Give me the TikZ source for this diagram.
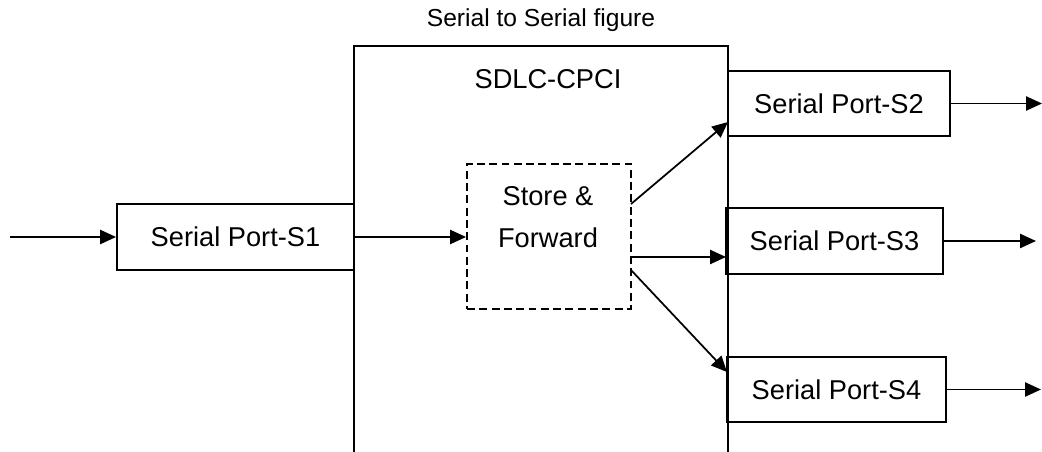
\documentclass[tikz,border=0pt]{standalone}
\usepackage{fontspec}
\setmainfont{Liberation Sans}
\usetikzlibrary{arrows.meta,calc}
\begin{document}
\begin{tikzpicture}[x=0.02cm,y=-0.02cm,
  line width=1.1pt,
  port/.style={draw,line width=1.1pt,inner sep=0pt,font=\fontsize{15.5}{18}\selectfont},
  arr/.style={-{Triangle[length=9pt,width=8pt]},line width=1pt},
  lbl/.style={inner sep=0pt,font=\fontsize{15.5}{18}\selectfont}]
\useasboundingbox (0,0) rectangle (1042,452);
% outer open box
\draw (354,452) -- (354,46) -- (728,46) -- (728,452);
\node[lbl,font=\fontsize{14}{17}\selectfont] (title) at (541,20) {Serial to Serial figure};
\node[lbl] (sdlc) at (548,79) {SDLC-CPCI};
% ports
\node[port,minimum width=4.74cm,minimum height=1.32cm] (S1) at (235.5,237) {Serial Port-S1};
\node[port,minimum width=4.44cm,minimum height=1.3cm] (S2) at (839,103.5) {Serial Port-S2};
\node[port,minimum width=4.34cm,minimum height=1.32cm] (S3) at (834.5,241) {Serial Port-S3};
\node[port,minimum width=4.38cm,minimum height=1.3cm] (S4) at (836.5,389.5) {Serial Port-S4};
% store & forward
\node[draw,dash pattern=on 4.5pt off 2.5pt,line width=1.1pt,minimum width=3.28cm,minimum height=2.9cm,inner sep=0pt] (SF) at (549,236.5) {};
\node[lbl,align=center,font=\fontsize{15.5}{24}\selectfont] (sftext) at (548,217) {Store \&\\Forward};
% coordinates
\coordinate (in) at (10,237);
\coordinate (o2) at (1042,103.5);
\coordinate (o3) at (1036,241);
\coordinate (o4) at (1041,389.5);
\coordinate (sfa) at (631,204);
\coordinate (sfb) at (631,257);
\coordinate (sfc) at (631,270);
\coordinate (s2in) at (728,122);
\coordinate (s3in) at (726,257);
\coordinate (s4in) at (727,372);
% connectors
\draw[arr] (in) -- (S1.west);
\draw[arr] (S1.east) -- (S1.east -| SF.west);
\draw[arr] (sfa) -- (s2in);
\draw[arr] (sfb) -- (s3in);
\draw[arr] (sfc) -- (s4in);
\draw[arr] (S2.east) -- (o2);
\draw[arr] (S3.east) -- (o3);
\draw[arr] (S4.east) -- (o4);
\end{tikzpicture}
\end{document}
